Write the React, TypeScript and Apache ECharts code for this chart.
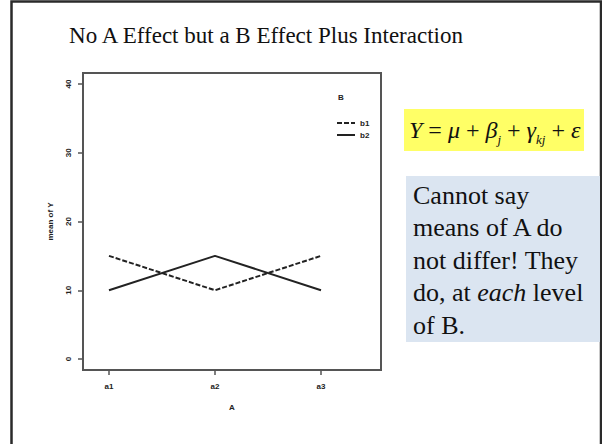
import React, { useEffect, useRef } from "react";
import * as echarts from "echarts";

// Factor A levels and their positions on the x scale
const levelsA = ["a1", "a2", "a3"];
const positionsA = [1, 2, 3];
// Cell means of Y for each level of B
const meansB1 = [15, 10, 15];
const meansB2 = [10, 15, 10];
const seriesNames = ["b1", "b2"];
const yTicks = [0, 10, 20, 30, 40];

const titleText = "No A Effect but a B Effect Plus Interaction";
const noteLines = [
  "Cannot say",
  "means of A do",
  "not differ! They",
  "do, at {i|each} level",
  "of B.",
];

const SERIF = "'Liberation Serif', 'Times New Roman', serif";
const SANS = "'Liberation Sans', Arial, sans-serif";

const smallText = {
  fontSize: 8,
  fontWeight: "bold" as const,
  color: "#222",
  fontFamily: SANS,
};

const frameLine = { color: "#555", width: 2 };

export default function App() {
  const ref = useRef<HTMLDivElement>(null);

  useEffect(() => {
    if (!ref.current) return;
    const chart = echarts.init(ref.current, undefined, { renderer: "svg" });

    const toPoints = (vals: number[]) => positionsA.map((x, i) => [x, vals[i]]);

    const option = {
      animation: false,
      backgroundColor: "#ffffff",
      grid: {
        left: 83,
        top: 73,
        width: 298,
        height: 297,
        show: true,
        borderColor: "#555",
        borderWidth: 2,
        backgroundColor: "transparent",
      },
      xAxis: {
        type: "value",
        min: 0.755,
        max: 3.566,
        axisLine: { show: true, onZero: false, lineStyle: frameLine },
        splitLine: { show: false },
        axisTick: {
          show: true,
          customValues: positionsA,
          length: 5,
          lineStyle: { color: "#555", width: 1.5 },
        },
        axisLabel: {
          customValues: positionsA,
          formatter: (v: number) => levelsA[positionsA.indexOf(v)] ?? "",
          margin: 12,
          ...smallText,
        },
        name: "A",
        nameLocation: "middle",
        nameGap: 33,
        nameTextStyle: smallText,
      },
      yAxis: {
        type: "value",
        min: -1.6,
        max: 41.6,
        axisLine: { show: true, onZero: false, lineStyle: frameLine },
        splitLine: { show: false },
        axisTick: {
          show: true,
          customValues: yTicks,
          length: 5,
          lineStyle: { color: "#555", width: 1.5 },
        },
        axisLabel: {
          customValues: yTicks,
          rotate: 90,
          margin: 11,
          ...smallText,
        },
        name: "mean of Y",
        nameLocation: "middle",
        nameGap: 29,
        nameRotate: 90,
        nameTextStyle: smallText,
      },
      legend: {
        orient: "vertical",
        left: 336,
        top: 119,
        itemWidth: 18,
        itemHeight: 6,
        itemGap: 4,
        padding: 0,
        data: seriesNames,
        itemStyle: { opacity: 0, borderWidth: 0 },
        textStyle: smallText,
      },
      series: [
        {
          name: seriesNames[0],
          type: "line",
          data: toPoints(meansB1),
          symbol: "none",
          lineStyle: { color: "#222", width: 2, type: [5, 2] },
          itemStyle: { color: "#222" },
        },
        {
          name: seriesNames[1],
          type: "line",
          data: toPoints(meansB2),
          symbol: "none",
          lineStyle: { color: "#222", width: 2, type: "solid" },
          itemStyle: { color: "#222" },
        },
      ],
      graphic: [
        {
          type: "rect",
          shape: { x: 11.5, y: 1.5, width: 589.5, height: 500 },
          style: { fill: "none", stroke: "#2a2a2a", lineWidth: 2.5 },
          silent: true,
        },
        {
          type: "text",
          x: 266,
          y: 35,
          style: {
            text: titleText,
            font: `23px ${SERIF}`,
            fill: "#111",
            align: "center",
            verticalAlign: "middle",
          },
        },
        {
          type: "text",
          x: 338,
          y: 97,
          style: { text: "B", ...smallText, fill: "#222", verticalAlign: "middle" },
        },
        {
          type: "rect",
          shape: { x: 404, y: 109, width: 180, height: 42 },
          style: { fill: "#ffff66" },
        },
        {
          type: "text",
          x: 409,
          y: 130,
          style: {
            text: "{v|Y} = {v|μ} + {v|β}{s|j} + {v|γ}{s|kj} + {v|ε}",
            fontFamily: SERIF,
            fontSize: 24,
            lineHeight: 32,
            fill: "#111",
            verticalAlign: "middle",
            rich: {
              v: { fontStyle: "italic", fontSize: 24, fontFamily: SERIF, lineHeight: 32, verticalAlign: "middle" },
              s: { fontStyle: "italic", fontSize: 13, fontFamily: SERIF, lineHeight: 11, verticalAlign: "bottom" },
            },
          },
        },
        {
          type: "rect",
          shape: { x: 406, y: 176, width: 194, height: 166 },
          style: { fill: "#dbe5f1" },
        },
        {
          type: "text",
          x: 413,
          y: 179,
          style: {
            text: noteLines.join("\n"),
            fontFamily: SERIF,
            fontSize: 26,
            lineHeight: 32.5,
            fill: "#111",
            verticalAlign: "top",
            rich: {
              i: { fontStyle: "italic", fontFamily: SERIF, fontSize: 26, lineHeight: 32.5 },
            },
          },
        },
      ],
    };

    chart.setOption(option as any);
    return () => chart.dispose();
  }, []);

  return (
    <div
      ref={ref}
      style={{ position: "fixed", left: 0, top: 0, width: 602, height: 444, background: "#fff" }}
    />
  );
}
